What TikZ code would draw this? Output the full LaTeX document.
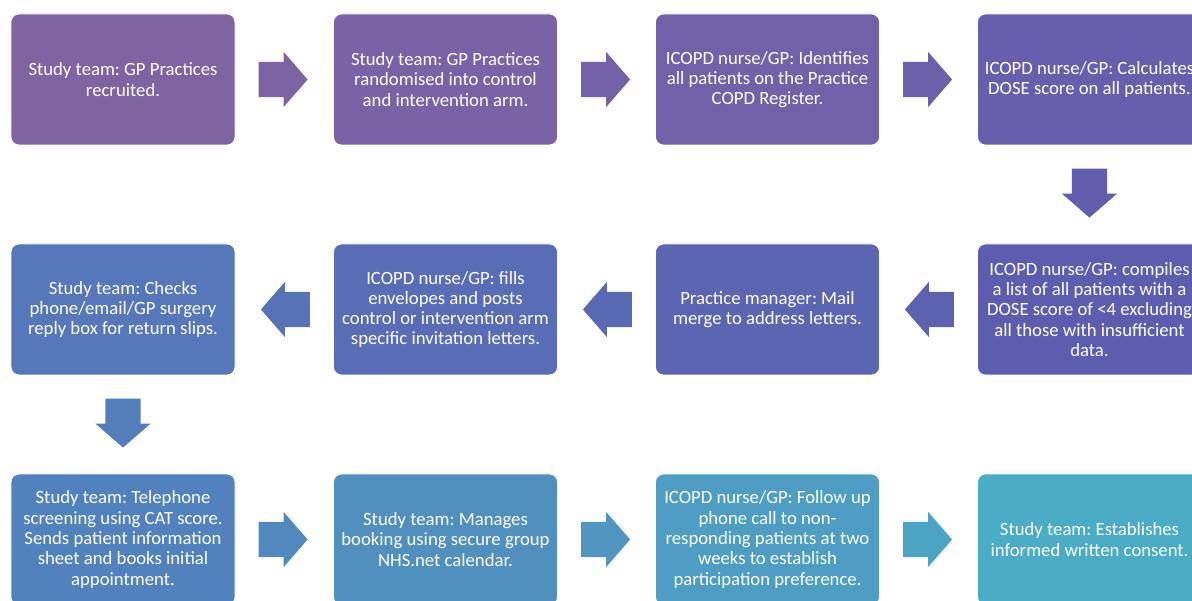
\documentclass[tikz,border=0pt]{standalone}
\usepackage{fontspec}
\setmainfont{Carlito}
\usetikzlibrary{shapes.arrows}
\frenchspacing

% Colores de los pasos (de violeta a turquesa)
\definecolor{c1}{RGB}{128,100,162}
\definecolor{c2}{RGB}{121,98,165}
\definecolor{c3}{RGB}{113,97,169}
\definecolor{c4}{RGB}{103,95,172}
\definecolor{c5}{RGB}{93,93,175}
\definecolor{c6}{RGB}{91,101,178}
\definecolor{c7}{RGB}{88,109,182}
\definecolor{c8}{RGB}{86,119,185}
\definecolor{c9}{RGB}{82,130,189}
\definecolor{c10}{RGB}{81,143,191}
\definecolor{c11}{RGB}{78,157,195}
\definecolor{c12}{RGB}{75,172,198}

\tikzset{
  paso/.style={rectangle, rounded corners=8pt, fill=#1, draw=white, line width=0.8pt,
    text=white, align=center, minimum width=224pt, minimum height=131pt, inner sep=0pt,
    font=\fontsize{18.7}{20.3}\selectfont},
  flecha/.style={single arrow, fill=#1, draw=none, minimum height=49pt, minimum width=55pt,
    inner xsep=0pt, inner ysep=17.5pt, single arrow head extend=10pt, single arrow tip angle=98,
    anchor=tail},
  flechaabajo/.style={flecha=#1, inner xsep=17.5pt, inner ysep=0pt, shape border rotate=270},
}

\begin{document}
\begin{tikzpicture}[x=1pt, y=-1pt]
    \useasboundingbox (0,0) rectangle (1192,601);
    \clip (0,0) rectangle (1192,601);

    % Primera fila
    \node[paso=c1] (p1) at (123,79.5) {Study team: GP Practices\\recruited.};
    \node[paso=c2] (p2) at (445.5,79.5) {Study team: GP Practices\\randomised into control\\and intervention arm.};
    \node[paso=c3] (p3) at (767.5,79.5) {ICOPD nurse/GP: Identifies\\all patients on the Practice\\COPD Register.};
    \node[paso=c4] (p4) at (1089.5,79.5) {ICOPD nurse/GP: Calculates\\DOSE score on all patients.};

    % Segunda fila
    \node[paso=c5] (p5) at (1089.5,309.5) {ICOPD nurse/GP: compiles\\a list of all patients with a\\DOSE score of <4 excluding\\all those with insufficient\\data.};
    \node[paso=c6] (p6) at (767.5,309.5) {Practice manager: Mail\\merge to address letters.};
    \node[paso=c7] (p7) at (445.5,309.5) {ICOPD nurse/GP: fills\\envelopes and posts\\control or intervention arm\\specific invitation letters.};
    \node[paso=c8] (p8) at (123,309.5) {Study team: Checks\\phone/email/GP surgery\\reply box for return slips.};

    % Tercera fila
    \node[paso=c9] (p9) at (123,539.5) {Study team: Telephone\\screening using CAT score.\\Sends patient information\\sheet and books initial\\appointment.};
    \node[paso=c10] (p10) at (445.5,539.5) {Study team: Manages\\booking using secure group\\NHS.net calendar.};
    \node[paso=c11] (p11) at (767.5,539.5) {ICOPD nurse/GP: Follow up\\phone call to non-\\responding patients at two\\weeks to establish\\participation preference.};
    \node[paso=c12] (p12) at (1089.5,539.5) {Study team: Establishes\\informed written consent.};

    % Flechas
    \node[flecha=c1!50!c2] (f1) at ([xshift=23pt]p1.east) {};
    \node[flecha=c2!50!c3] (f2) at ([xshift=23pt]p2.east) {};
    \node[flecha=c3!50!c4] (f3) at ([xshift=23pt]p3.east) {};
    \node[flechaabajo=c4!50!c5] (f4) at ([yshift=-23pt]p4.south) {};
    \node[flecha=c5!50!c6, shape border rotate=180] (f5) at ([xshift=-23pt]p5.west) {};
    \node[flecha=c6!50!c7, shape border rotate=180] (f6) at ([xshift=-23pt]p6.west) {};
    \node[flecha=c7!50!c8, shape border rotate=180] (f7) at ([xshift=-23pt]p7.west) {};
    \node[flechaabajo=c8!50!c9] (f8) at ([yshift=-23pt]p8.south) {};
    \node[flecha=c9!50!c10] (f9) at ([xshift=23pt]p9.east) {};
    \node[flecha=c10!50!c11] (f10) at ([xshift=23pt]p10.east) {};
    \node[flecha=c11!50!c12] (f11) at ([xshift=23pt]p11.east) {};
\end{tikzpicture}
\end{document}
